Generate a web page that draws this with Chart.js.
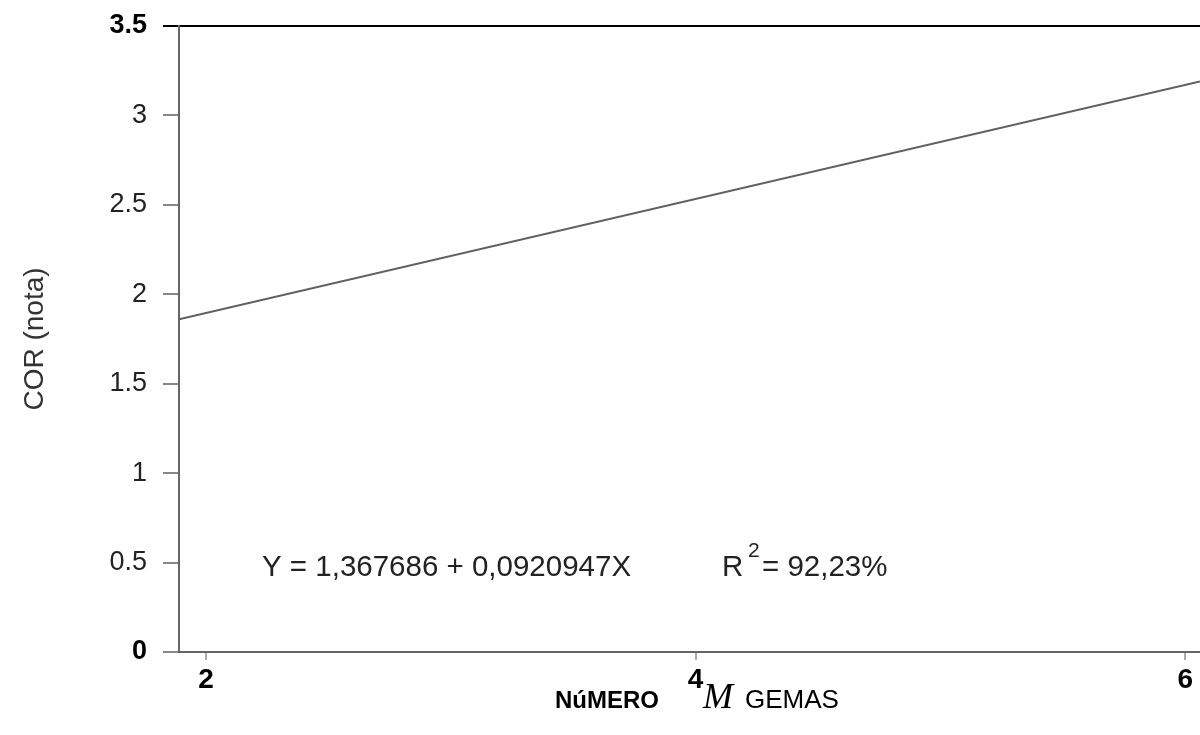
<!DOCTYPE html>
<html>
<head>
<meta charset="utf-8">
<script src="https://cdn.jsdelivr.net/npm/chart.js@4/dist/chart.umd.min.js"></script>
<style>
  body { margin: 0; background: #fff; }
  #wrap { width: 1200px; height: 735px; position: relative; }
</style>
</head>
<body>
<div id="wrap"><canvas id="corChart"></canvas></div>
<script>
// Regression line: cor (nota) vs número de gemas, drawn between the axis limits
const gemas = [1.89, 6.06];
const nota = [1.86, 3.19];

const xTickValues = [2, 4, 6];
const yTickValues = [0, 0.5, 1, 1.5, 2, 2.5, 3, 3.5];

const equationText = 'Y = 1,367686 + 0,0920947X';
const r2Text = '= 92,23%';

const SANS = 'Arial, "Liberation Sans", sans-serif';

// ends of the y axis get the heavier black style
const isEndTick = c => !!(c.tick && (c.tick.value === 3.5 || c.tick.value === 0));
const isTopTick = c => !!(c.tick && c.tick.value === 3.5);

// Equation, R² and the mixed-style x title
const annotations = {
  id: 'annotations',
  afterDraw(chart) {
    const ctx = chart.ctx;
    ctx.save();
    ctx.fillStyle = '#222';
    ctx.textBaseline = 'alphabetic';
    ctx.textAlign = 'left';

    ctx.font = '29.5px ' + SANS;
    ctx.fillText(equationText, 262, 576);
    ctx.fillText('R', 722, 576);
    ctx.fillText(r2Text, 762, 576);
    ctx.font = '21px ' + SANS;
    ctx.fillText('2', 748, 557);

    // x title: NúMERO (bold) M (serif italic) GEMAS
    ctx.fillStyle = '#000';
    ctx.font = 'bold 24px ' + SANS;
    ctx.fillText('NúMERO', 555, 708);
    ctx.font = 'italic 36px "Times New Roman", "Liberation Serif", serif';
    ctx.fillText('M', 703, 708);
    ctx.font = '26px ' + SANS;
    ctx.fillText('GEMAS', 745, 708);
    ctx.restore();
  }
};

new Chart(document.getElementById('corChart'), {
  type: 'scatter',
  data: {
    datasets: [{
      data: gemas.map((g, i) => ({ x: g, y: nota[i] })),
      showLine: true,
      borderColor: '#606060',
      borderWidth: 2,
      pointRadius: 0,
      tension: 0
    }]
  },
  options: {
    responsive: true,
    maintainAspectRatio: false,
    animation: false,
    layout: { padding: { top: 26, right: 0, bottom: 0, left: 0 } },
    plugins: { legend: { display: false }, tooltip: { enabled: false } },
    scales: {
      x: {
        type: 'linear',
        min: 1.89,
        max: 6.06,
        afterBuildTicks: s => { s.ticks = xTickValues.map(v => ({ value: v })); },
        afterFit: s => { s.height = 83; s.paddingLeft = 0; s.paddingRight = 0; },
        border: { color: '#666', width: 2 },
        grid: { drawOnChartArea: false, tickLength: 8, tickColor: '#aaa', lineWidth: 2 },
        ticks: {
          autoSkip: false,
          maxRotation: 0,
          padding: 3,
          color: '#000',
          font: { family: SANS, size: 28, weight: 'bold' },
          callback: v => String(v)
        }
      },
      y: {
        min: 0,
        max: 3.5,
        afterBuildTicks: s => { s.ticks = yTickValues.map(v => ({ value: v })); },
        afterFit: s => { s.width = 179; s.paddingTop = 0; s.paddingBottom = 0; },
        border: { color: '#666', width: 2 },
        grid: {
          drawOnChartArea: true,
          tickLength: 16,
          lineWidth: 2,
          color: c => (isTopTick(c) ? '#000' : 'rgba(0,0,0,0)'),
          tickColor: c => (isTopTick(c) ? '#000' : '#888')
        },
        ticks: {
          padding: 16,
          color: c => (isEndTick(c) ? '#000' : '#222'),
          font: c => ({ family: SANS, size: 27, weight: isEndTick(c) ? 'bold' : 'normal' }),
          callback: v => String(v)
        },
        title: {
          display: true,
          text: 'COR (nota)',
          color: '#333',
          padding: { top: 18, bottom: 0 },
          font: { family: SANS, size: 28 }
        }
      }
    }
  },
  plugins: [annotations]
});
</script>
</body>
</html>
